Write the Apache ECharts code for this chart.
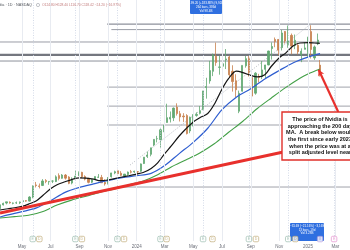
<!DOCTYPE html>
<html><head><meta charset="utf-8">
<script src="https://cdn.jsdelivr.net/npm/echarts@6/dist/echarts.min.js"></script>
<style>html,body{margin:0;padding:0;background:#fff}#c{width:350px;height:250px}</style>
</head><body><div id="c"></div>
<script>
// ---------- DATA ----------
const xStart = '2023-03-15', xEnd = '2025-04-01';
const firstWeek = '2023-03-15';   // mid-week date of first weekly candle
const lastDay = '2025-01-27';     // last (single-day) candle
const opens  = [23.0,25.6,26.9,27.5,26.7,27.0,27.1,27.9,28.6,28.3,31.2,39.8,39.1,39.4,42.9,42.0,42.5,42.2,46.4,44.5,46.8,45.4,41.1,44.4,46.9,48.7,45.7,44.5,41.7,44.0,45.2,45.1,41.6,41.0,45.6,48.3,49.8,48.1,46.1,47.2,49.2,49.0,
  49.2,49.5,55.0,60.0,61.5,68.2,72.6,71.9,79.7,84.1,86.5,87.4,95.0,90.3,88.7,89.0,78.1,88.8,89.1,90.6,93.5,108.9,113.6,120.4,131.1,123.2,124.0,128.6,130.6,120.4,113.7,92.1,106.3,124.3,129.6,116.0,104.9,116.8,116.6,121.8,124.9,136.5,143.0,143.0,137.2,148.7,139.5,145.9,138.8,138.9,132.2,136.0,134.8,148.6,129.9,139.8,124.8];
const highs  = [25.9,27.2,27.8,28.1,27.3,28.0,28.0,28.9,29.0,31.8,39.5,41.9,40.8,43.9,43.9,42.5,43.0,46.6,48.0,47.5,47.5,46.0,45.2,50.2,49.4,49.1,46.6,44.8,44.0,45.8,47.5,46.9,43.8,45.4,48.4,49.9,50.5,49.6,47.5,49.3,50.4,49.9,
  49.3,55.0,59.5,63.5,66.2,72.2,74.6,79.9,82.3,97.4,91.9,94.7,97.7,92.3,90.7,90.0,88.3,90.0,91.3,95.8,106.5,115.8,127.8,133.0,140.8,131.4,128.3,136.2,131.4,124.7,118.3,106.7,124.6,131.3,131.3,116.0,119.8,118.6,127.7,125.0,135.0,140.9,144.4,143.1,149.8,149.0,152.9,147.2,146.5,140.5,136.7,141.1,144.9,153.1,138.7,147.2,128.4];
const lows   = [22.6,25.2,26.0,26.5,26.0,26.3,26.2,27.2,27.9,28.0,30.3,38.0,37.3,39.0,41.0,39.9,41.1,41.8,43.0,44.2,43.6,40.3,40.2,43.9,46.0,44.6,43.0,40.9,41.1,43.3,44.7,41.2,39.3,40.1,45.0,47.4,47.4,46.0,45.0,46.3,47.9,48.3,
  47.3,49.1,54.6,58.9,60.1,67.3,70.0,66.2,77.2,84.0,84.1,85.1,89.0,84.8,84.5,75.6,76.5,81.3,88.2,89.8,92.8,101.0,111.6,117.0,124.3,118.0,118.0,122.0,115.6,106.0,102.0,90.7,106.0,123.0,116.7,100.9,103.8,112.5,114.9,115.1,124.7,128.7,137.5,131.8,135.2,140.1,137.1,132.5,136.1,132.4,126.9,135.9,130.7,129.5,128.5,139.0,116.7];
const closes = [25.7,26.7,27.8,27.0,27.0,27.1,27.7,28.6,28.3,31.2,38.9,39.3,38.7,42.6,42.2,42.3,42.5,45.5,44.4,46.8,44.6,40.9,43.3,46.1,48.5,45.6,43.9,41.6,43.5,45.7,45.4,41.3,40.5,45.0,48.3,49.2,47.8,46.6,47.5,48.9,48.8,49.5,
  49.0,54.7,59.5,61.0,66.1,72.1,72.6,78.9,82.2,87.5,87.8,94.3,90.4,88.0,88.1,76.2,87.8,88.8,89.8,92.5,106.5,109.6,120.9,131.9,126.6,123.5,125.8,129.2,117.9,113.1,107.3,104.8,124.6,129.4,119.4,102.8,119.1,116.0,121.4,124.9,134.8,138.0,141.5,135.4,147.6,141.9,141.9,138.3,142.4,134.3,134.7,137.0,144.5,135.9,137.7,142.6,118.4];

const ma50Dates = ['2023-03-15','2023-04-01','2023-04-15','2023-05-01','2023-05-15','2023-06-01','2023-06-15','2023-07-01','2023-07-15','2023-08-01','2023-08-15','2023-09-01','2023-09-15','2023-10-01','2023-10-15','2023-11-01','2023-11-15','2023-12-01','2023-12-15','2024-01-01','2024-01-15','2024-02-01','2024-02-15','2024-03-01','2024-03-15','2024-04-01','2024-04-15','2024-05-01','2024-05-15','2024-06-01','2024-06-15','2024-07-01','2024-07-15','2024-08-01','2024-08-15','2024-09-01','2024-09-15','2024-10-01','2024-10-15','2024-11-01','2024-11-15','2024-12-01','2024-12-15','2025-01-01','2025-01-15','2025-01-27'];
const ma50 = [22.0,22.9,23.6,24.6,26.2,28.6,32.5,37.0,39.9,42.0,43.6,44.8,44.6,43.9,42.8,43.3,44.3,45.4,46.3,47.5,48.6,51.5,55.5,62.0,67.5,74.5,79.5,84.5,87.5,90.5,97.0,107.5,115.0,120.5,119.5,117.5,116.5,118.0,124.0,130.0,133.5,138.5,140.5,140.7,140.5,140.3];
const ma100Dates = ['2023-03-15','2023-04-01','2023-05-01','2023-06-01','2023-07-01','2023-08-01','2023-09-01','2023-10-01','2023-11-01','2023-12-01','2024-01-01','2024-02-01','2024-03-01','2024-04-01','2024-05-01','2024-06-01','2024-07-01','2024-08-01','2024-09-01','2024-10-01','2024-11-01','2024-12-01','2025-01-01','2025-01-27'];
const ma100 = [17.0,18.5,20.8,23.5,28.5,34.5,38.0,40.5,43.0,45.0,46.3,48.0,53.5,62.0,70.0,80.0,93.0,102.0,108.0,115.0,121.0,126.5,130.5,133.0];
const ma200Dates = ['2023-03-15','2023-04-15','2023-05-15','2023-06-15','2023-07-15','2023-08-15','2023-09-15','2023-10-15','2023-11-15','2023-12-15','2024-01-15','2024-02-15','2024-03-15','2024-04-15','2024-05-15','2024-06-15','2024-07-15','2024-08-15','2024-09-15','2024-10-15','2024-11-15','2024-12-15','2025-01-01','2025-01-27'];
const ma200 = [16.3,17.3,18.3,21.0,25.5,29.0,31.8,34.6,37.0,39.8,42.5,47.0,52.5,57.5,62.5,69.0,77.0,85.0,94.0,101.5,109.0,115.5,118.5,122.0];

const trendDates = ['2023-03-15','2024-11-22'];
const trendPrices = [19.9, 64.1];
const measureDates = ['2023-12-18','2025-01-07'];
const measurePrices = [53.9, 153.9];
const arrowDates = ['2025-03-07','2025-01-24'];
const arrowPrices = [91.5, 121.5];

const levelPrices = [153.9,150.0,141.2,132.0,127.7,109.2,95.7,82.3,38.3];
const levelStarts = ['2023-10-30','2023-11-08','2023-03-01','2023-03-01','2023-03-01','2023-10-30','2023-10-30','2023-10-30','2023-11-20'];

const monthLabelDates = ['2023-05-01','2023-07-01','2023-09-01','2023-11-01','2024-01-01','2024-03-01','2024-05-01','2024-07-01','2024-09-01','2024-11-01','2025-01-01','2025-03-01'];
const monthNames = ['Jan','Feb','Mar','Apr','May','Jun','Jul','Aug','Sep','Oct','Nov','Dec'];

const eventDates = ['2023-05-24','2023-06-07','2023-08-23','2023-09-06','2023-11-21','2023-12-05','2024-02-21','2024-03-05','2024-05-22','2024-06-11','2024-08-28','2024-09-12','2024-11-20','2024-12-05','2025-01-27','2025-02-26'];
const eventKinds = ['E','D','E','D','E','D','E','D','E','D','E','D','E','D','S','E'];

const headerTitle = 'Nvidia · 1D · NASDAQ';
const headerOHLC = 'O124.80 H128.40 L116.70 C118.42 −24.20 (−16.97%)';
const noteLines = ['The price of Nvidia is','approaching the 200 day','MA.  A break below would','the first since early 2023','when the price was at a','split adjusted level near'];
const topMeasure = ['+99.20 (+183.88%) 9,920','264 bars, 386d','Vol 98.4B'];
const bottomMeasure = ['−31.69 (−21.16%) −3,169','13 bars, 19d','Vol 3.28B'];

// ---------- BUILD ----------
function ts(s){const p=s.split('-').map(Number);return Date.UTC(p[0],p[1]-1,p[2]);}
const DAY = 864e5;
const candleData = opens.map((o,i)=>{
  const t = i < opens.length-1 ? ts(firstWeek)+i*7*DAY : ts(lastDay);
  return [t, o, closes[i], lows[i], highs[i]];
});
const pairs = (ds,vs)=>ds.map((d,i)=>[ts(d),vs[i]]);
const levelColors = ['#8e919b','#9a9da6','#9a9da6','#74777f','#8e919b','#a0a3ab','#a0a3ab','#a0a3ab','#a0a3ab'];
const levelWidths = [1.3,1,1,2.2,1,1,1,1,1];
const levelSeries = levelPrices.map((p,i)=>({
  type:'line', data:[[ts(levelStarts[i]),p],[ts(xEnd),p]], showSymbol:false, silent:true, z:1,
  lineStyle:{color:levelColors[i], width:levelWidths[i]}
}));
const kindColor = {E:'#8fb5a6', D:'#b9a26a', S:'#a58ad8'};
const eventSeries = {
  type:'scatter', z:120, silent:true,
  data: eventDates.map((d,i)=>{
    const last = i===eventDates.length-1;
    const col = last?'#e07fc8':kindColor[eventKinds[i]];
    return {value:[ts(d),1.4],
      itemStyle:{color:'#fff', borderColor:col, borderWidth:0.8},
      label:{show:true, formatter: eventKinds[i]==='S'?'8':eventKinds[i], color:col, fontSize:3.5, fontFamily:'Liberation Sans'}};
  }),
  symbol:'roundRect', symbolSize:5.5,
  label:{position:'inside'}
};

const chart = echarts.init(document.getElementById('c'), null, {renderer:'canvas'});
const option = {
  animation:false,
  backgroundColor:'#ffffff',
  grid:{left:0,right:0,top:0,bottom:9,containLabel:false},
  xAxis:{type:'value', min:ts(xStart), max:ts(xEnd), scale:true,
    axisLine:{show:false}, axisTick:{show:false}, splitLine:{show:false},
    axisLabel:{customValues: monthLabelDates.map(ts), margin:3, fontSize:4.5, color:'#6b6e78', fontFamily:'Liberation Sans',
      formatter:(v)=>{const d=new Date(v);return d.getUTCMonth()===0?String(d.getUTCFullYear()):monthNames[d.getUTCMonth()];}}},
  yAxis:{type:'value', min:0, max:171, show:false, splitLine:{show:false}},
  series:[
    {type:'line', data:[], z:0, silent:true,
      markLine:{silent:true, symbol:'none', label:{show:false},
        data: monthLabelDates.map(d=>({xAxis:ts(d), lineStyle:{color:'#e8ebf1', width:1, type:'solid'}}))
          .concat(eventDates.filter((d,i)=>eventKinds[i]==='E').map(d=>({xAxis:ts(d), lineStyle:{color:'#c9d2e2', width:0.8, type:[1,1.5]}})))}},
    ...levelSeries,
    {type:'line', data:pairs(measureDates,measurePrices), showSymbol:false, silent:true, z:1,
      lineStyle:{color:'#a4a9b3', width:0.8, type:[1,1.5]}},
    {type:'candlestick', data:candleData, barWidth:1.7, z:3,
      itemStyle:{color:'#62a872', color0:'#c8824f', borderColor:'#62a872', borderColor0:'#c8824f', borderWidth:0.8}},
    {type:'line', data:pairs(ma200Dates,ma200), smooth:0.3, showSymbol:false, z:4, lineStyle:{color:'#43a047', width:1.1}},
    {type:'line', data:pairs(ma100Dates,ma100), smooth:0.3, showSymbol:false, z:4, lineStyle:{color:'#2f5ed0', width:1.2}},
    {type:'line', data:pairs(ma50Dates,ma50), smooth:0.3, showSymbol:false, z:4, lineStyle:{color:'#151515', width:1.2}},
    {type:'line', data:pairs(trendDates,trendPrices), showSymbol:false, z:5, lineStyle:{color:'#e8302c', width:3}},
    {type:'line', data:[], z:6, silent:true,
      markLine:{silent:true, symbol:['none','arrow'], symbolSize:[5,6], label:{show:false},
        lineStyle:{color:'#e8302c', width:2.2, type:'solid'},
        data:[[{coord:[ts(arrowDates[0]),arrowPrices[0]]},{coord:[ts(arrowDates[1]),arrowPrices[1]]}]]}},
    eventSeries
  ],
  graphic:[
    {type:'text', x:32, y:5, z:100, style:{text:headerTitle, align:'right', verticalAlign:'middle', fontSize:3.8, fontFamily:'Liberation Sans', fill:'#55585f'}},
    {type:'circle', shape:{cx:38, cy:5, r:1.6}, z:100, style:{fill:'#fff', stroke:'#9a9da6', lineWidth:0.6}},
    {type:'text', x:42, y:5, z:100, style:{text:headerOHLC, align:'left', verticalAlign:'middle', fontSize:3.3, fontFamily:'Liberation Sans', fill:'#c27b7b'}},
    {type:'rect', shape:{x:190,y:-2,width:32,height:16,r:1}, z:100, style:{fill:'#2f6fe0'}},
    {type:'text', x:206, y:1, z:101, style:{text:topMeasure.join('\n'), align:'center', verticalAlign:'top', fontSize:3, lineHeight:4.2, fontFamily:'Liberation Sans', fill:'#fff'}},
    {type:'rect', shape:{x:290,y:223,width:34,height:18,r:1}, z:100, style:{fill:'#2f6fe0'}},
    {type:'text', x:307, y:224.5, z:101, style:{text:bottomMeasure.join('\n'), align:'center', verticalAlign:'top', fontSize:3, lineHeight:3.5, fontFamily:'Liberation Sans', fill:'#fff'}},
    {type:'rect', shape:{x:282,y:112,width:76,height:48}, z:100, style:{fill:'#ffffff', stroke:'#e0302a', lineWidth:1.4}},
    {type:'text', x:320, y:116, z:101, style:{text:noteLines.join('\n'), align:'center', verticalAlign:'top', fontSize:5.5, fontWeight:'bold', lineHeight:6.7, fontFamily:'Liberation Sans', fill:'#111'}}
  ]
};
chart.setOption(option);
</script></body></html>
